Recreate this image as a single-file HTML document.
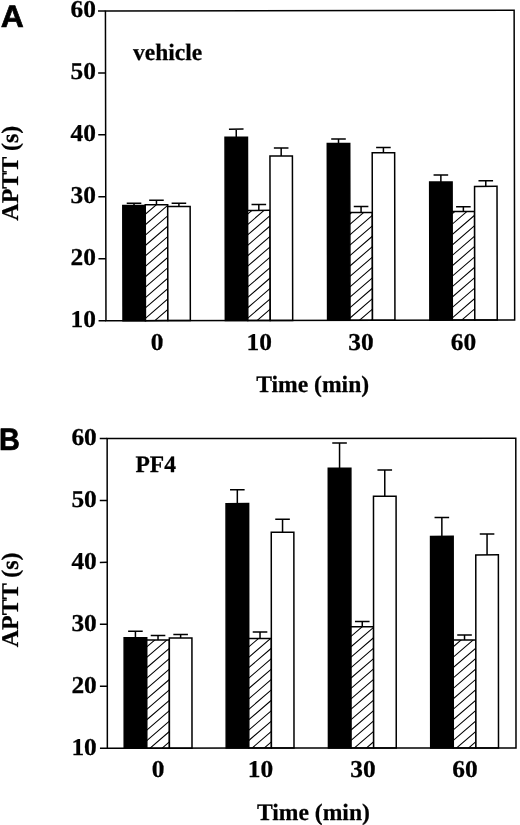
<!DOCTYPE html>
<html lang="en"><head><meta charset="utf-8"><title>APTT figure</title>
<style>html,body{margin:0;padding:0;background:#fff;}svg{display:block;filter:grayscale(1);}text{text-rendering:geometricPrecision;stroke:#000;stroke-width:0.25px;stroke-linejoin:round;}text.big{stroke-width:0.7px;}</style></head>
<body>
<svg width="520" height="825" viewBox="0 0 520 825">
<rect width="520" height="825" fill="#fff"/>
<g transform="rotate(-0.1 310 165)">
<rect x="122.73" y="205.27" width="22.45" height="115.08" fill="#000" stroke="#000" stroke-width="1.5"/>
<path d="M133.95,205.27 V202.90 M126.65,202.90 H141.25" stroke="#000" stroke-width="1.5" fill="none"/>
<rect x="145.18" y="204.40" width="22.45" height="115.95" fill="#fff" stroke="#000" stroke-width="1.5"/>
<clipPath id="cA0"><rect x="145.18" y="204.40" width="22.45" height="115.95"/></clipPath>
<path clip-path="url(#cA0)" d="M145.18,349.25 L167.62,329.94 M145.18,338.85 L167.62,319.54 M145.18,328.45 L167.62,309.14 M145.18,318.05 L167.62,298.74 M145.18,307.65 L167.62,288.34 M145.18,297.25 L167.62,277.94 M145.18,286.85 L167.62,267.54 M145.18,276.45 L167.62,257.14 M145.18,266.05 L167.62,246.74 M145.18,255.65 L167.62,236.34 M145.18,245.25 L167.62,225.94 M145.18,234.85 L167.62,215.54 M145.18,224.45 L167.62,205.14 M145.18,214.05 L167.62,194.74 M145.18,203.65 L167.62,184.34 M145.18,193.25 L167.62,173.94" stroke="#000" stroke-width="1.05" fill="none"/>
<path d="M156.40,204.40 V200.00 M149.10,200.00 H163.70" stroke="#000" stroke-width="1.5" fill="none"/>
<rect x="167.62" y="206.30" width="22.45" height="114.05" fill="#fff" stroke="#000" stroke-width="1.5"/>
<path d="M178.85,206.30 V203.10 M171.55,203.10 H186.15" stroke="#000" stroke-width="1.5" fill="none"/>
<rect x="225.07" y="137.07" width="22.45" height="183.28" fill="#000" stroke="#000" stroke-width="1.5"/>
<path d="M236.30,137.07 V129.00 M229.00,129.00 H243.60" stroke="#000" stroke-width="1.5" fill="none"/>
<rect x="247.52" y="210.30" width="22.45" height="110.05" fill="#fff" stroke="#000" stroke-width="1.5"/>
<clipPath id="cA1"><rect x="247.52" y="210.30" width="22.45" height="110.05"/></clipPath>
<path clip-path="url(#cA1)" d="M247.52,349.25 L269.97,329.94 M247.52,338.85 L269.97,319.54 M247.52,328.45 L269.97,309.14 M247.52,318.05 L269.97,298.74 M247.52,307.65 L269.97,288.34 M247.52,297.25 L269.97,277.94 M247.52,286.85 L269.97,267.54 M247.52,276.45 L269.97,257.14 M247.52,266.05 L269.97,246.74 M247.52,255.65 L269.97,236.34 M247.52,245.25 L269.97,225.94 M247.52,234.85 L269.97,215.54 M247.52,224.45 L269.97,205.14 M247.52,214.05 L269.97,194.74 M247.52,203.65 L269.97,184.34 M247.52,193.25 L269.97,173.94" stroke="#000" stroke-width="1.05" fill="none"/>
<path d="M258.75,210.30 V204.30 M251.45,204.30 H266.05" stroke="#000" stroke-width="1.5" fill="none"/>
<rect x="269.97" y="156.00" width="22.45" height="164.35" fill="#fff" stroke="#000" stroke-width="1.5"/>
<path d="M281.20,156.00 V148.00 M273.90,148.00 H288.50" stroke="#000" stroke-width="1.5" fill="none"/>
<rect x="327.32" y="143.47" width="22.45" height="176.88" fill="#000" stroke="#000" stroke-width="1.5"/>
<path d="M338.55,143.47 V139.00 M331.25,139.00 H345.85" stroke="#000" stroke-width="1.5" fill="none"/>
<rect x="349.77" y="212.60" width="22.45" height="107.75" fill="#fff" stroke="#000" stroke-width="1.5"/>
<clipPath id="cA2"><rect x="349.77" y="212.60" width="22.45" height="107.75"/></clipPath>
<path clip-path="url(#cA2)" d="M349.77,349.25 L372.22,329.94 M349.77,338.85 L372.22,319.54 M349.77,328.45 L372.22,309.14 M349.77,318.05 L372.22,298.74 M349.77,307.65 L372.22,288.34 M349.77,297.25 L372.22,277.94 M349.77,286.85 L372.22,267.54 M349.77,276.45 L372.22,257.14 M349.77,266.05 L372.22,246.74 M349.77,255.65 L372.22,236.34 M349.77,245.25 L372.22,225.94 M349.77,234.85 L372.22,215.54 M349.77,224.45 L372.22,205.14 M349.77,214.05 L372.22,194.74 M349.77,203.65 L372.22,184.34 M349.77,193.25 L372.22,173.94" stroke="#000" stroke-width="1.05" fill="none"/>
<path d="M361.00,212.60 V206.50 M353.70,206.50 H368.30" stroke="#000" stroke-width="1.5" fill="none"/>
<rect x="372.22" y="152.90" width="22.45" height="167.45" fill="#fff" stroke="#000" stroke-width="1.5"/>
<path d="M383.45,152.90 V147.70 M376.15,147.70 H390.75" stroke="#000" stroke-width="1.5" fill="none"/>
<rect x="429.62" y="182.17" width="22.45" height="138.18" fill="#000" stroke="#000" stroke-width="1.5"/>
<path d="M440.85,182.17 V175.20 M433.55,175.20 H448.15" stroke="#000" stroke-width="1.5" fill="none"/>
<rect x="452.07" y="211.70" width="22.45" height="108.65" fill="#fff" stroke="#000" stroke-width="1.5"/>
<clipPath id="cA3"><rect x="452.07" y="211.70" width="22.45" height="108.65"/></clipPath>
<path clip-path="url(#cA3)" d="M452.07,349.25 L474.52,329.94 M452.07,338.85 L474.52,319.54 M452.07,328.45 L474.52,309.14 M452.07,318.05 L474.52,298.74 M452.07,307.65 L474.52,288.34 M452.07,297.25 L474.52,277.94 M452.07,286.85 L474.52,267.54 M452.07,276.45 L474.52,257.14 M452.07,266.05 L474.52,246.74 M452.07,255.65 L474.52,236.34 M452.07,245.25 L474.52,225.94 M452.07,234.85 L474.52,215.54 M452.07,224.45 L474.52,205.14 M452.07,214.05 L474.52,194.74 M452.07,203.65 L474.52,184.34 M452.07,193.25 L474.52,173.94" stroke="#000" stroke-width="1.05" fill="none"/>
<path d="M463.30,211.70 V207.00 M456.00,207.00 H470.60" stroke="#000" stroke-width="1.5" fill="none"/>
<rect x="474.52" y="186.70" width="22.45" height="133.65" fill="#fff" stroke="#000" stroke-width="1.5"/>
<path d="M485.75,186.70 V181.00 M478.45,181.00 H493.05" stroke="#000" stroke-width="1.5" fill="none"/>
<rect x="105.7" y="10.6" width="408.70" height="309.75" fill="none" stroke="#000" stroke-width="1.5"/>
<line x1="98.30" y1="10.60" x2="105.7" y2="10.60" stroke="#000" stroke-width="1.5"/>
<line x1="98.30" y1="72.55" x2="105.7" y2="72.55" stroke="#000" stroke-width="1.5"/>
<line x1="98.30" y1="134.50" x2="105.7" y2="134.50" stroke="#000" stroke-width="1.5"/>
<line x1="98.30" y1="196.45" x2="105.7" y2="196.45" stroke="#000" stroke-width="1.5"/>
<line x1="98.30" y1="258.40" x2="105.7" y2="258.40" stroke="#000" stroke-width="1.5"/>
<line x1="98.30" y1="320.35" x2="105.7" y2="320.35" stroke="#000" stroke-width="1.5"/>
</g>
<text transform="translate(95.9,17.34) scale(1.05,1)" text-anchor="end" font-family='"Liberation Serif", serif' font-weight="bold" font-size="24.2">60</text>
<text transform="translate(95.9,79.29) scale(1.05,1)" text-anchor="end" font-family='"Liberation Serif", serif' font-weight="bold" font-size="24.2">50</text>
<text transform="translate(95.9,141.24) scale(1.05,1)" text-anchor="end" font-family='"Liberation Serif", serif' font-weight="bold" font-size="24.2">40</text>
<text transform="translate(95.9,203.19) scale(1.05,1)" text-anchor="end" font-family='"Liberation Serif", serif' font-weight="bold" font-size="24.2">30</text>
<text transform="translate(95.9,265.14) scale(1.05,1)" text-anchor="end" font-family='"Liberation Serif", serif' font-weight="bold" font-size="24.2">20</text>
<text transform="translate(95.9,327.09) scale(1.05,1)" text-anchor="end" font-family='"Liberation Serif", serif' font-weight="bold" font-size="24.2">10</text>
<text transform="translate(157.00,349.7) scale(1.05,1)" text-anchor="middle" font-family='"Liberation Serif", serif' font-weight="bold" font-size="24.2">0</text>
<text transform="translate(259.20,349.7) scale(1.05,1)" text-anchor="middle" font-family='"Liberation Serif", serif' font-weight="bold" font-size="24.2">10</text>
<text transform="translate(360.90,349.7) scale(1.05,1)" text-anchor="middle" font-family='"Liberation Serif", serif' font-weight="bold" font-size="24.2">30</text>
<text transform="translate(463.40,349.7) scale(1.05,1)" text-anchor="middle" font-family='"Liberation Serif", serif' font-weight="bold" font-size="24.2">60</text>
<text x="0" y="0" font-family='"Liberation Sans", sans-serif' font-weight="bold" font-size="31" class="big" transform="translate(0.7,26.9) scale(1.03,1)">A</text>
<text x="133.0" y="59.5" font-family='"Liberation Serif", serif' font-weight="bold" font-size="23.5">vehicle</text>
<text transform="translate(17.5,173.2) rotate(-90)" text-anchor="middle" font-family='"Liberation Serif", serif' font-weight="bold" font-size="24">APTT (s)</text>
<text x="312.7" y="392.3" text-anchor="middle" font-family='"Liberation Serif", serif' font-weight="bold" font-size="23.6">Time (min)</text>
<g transform="rotate(-0.04 311 593)">
<rect x="124.10" y="637.57" width="22.60" height="110.48" fill="#000" stroke="#000" stroke-width="1.5"/>
<path d="M135.40,637.57 V631.20 M128.10,631.20 H142.70" stroke="#000" stroke-width="1.5" fill="none"/>
<rect x="146.70" y="639.80" width="22.60" height="108.25" fill="#fff" stroke="#000" stroke-width="1.5"/>
<clipPath id="cB0"><rect x="146.70" y="639.80" width="22.60" height="108.25"/></clipPath>
<path clip-path="url(#cB0)" d="M146.70,771.65 L169.30,752.21 M146.70,761.25 L169.30,741.81 M146.70,750.85 L169.30,731.41 M146.70,740.45 L169.30,721.01 M146.70,730.05 L169.30,710.61 M146.70,719.65 L169.30,700.21 M146.70,709.25 L169.30,689.81 M146.70,698.85 L169.30,679.41 M146.70,688.45 L169.30,669.01 M146.70,678.05 L169.30,658.61 M146.70,667.65 L169.30,648.21 M146.70,657.25 L169.30,637.81 M146.70,646.85 L169.30,627.41 M146.70,636.45 L169.30,617.01 M146.70,626.05 L169.30,606.61" stroke="#000" stroke-width="1.05" fill="none"/>
<path d="M158.00,639.80 V635.40 M150.70,635.40 H165.30" stroke="#000" stroke-width="1.5" fill="none"/>
<rect x="169.30" y="637.90" width="22.60" height="110.15" fill="#fff" stroke="#000" stroke-width="1.5"/>
<path d="M180.60,637.90 V634.40 M173.30,634.40 H187.90" stroke="#000" stroke-width="1.5" fill="none"/>
<rect x="226.10" y="503.57" width="22.60" height="244.48" fill="#000" stroke="#000" stroke-width="1.5"/>
<path d="M237.40,503.57 V489.60 M230.10,489.60 H244.70" stroke="#000" stroke-width="1.5" fill="none"/>
<rect x="248.70" y="638.40" width="22.60" height="109.65" fill="#fff" stroke="#000" stroke-width="1.5"/>
<clipPath id="cB1"><rect x="248.70" y="638.40" width="22.60" height="109.65"/></clipPath>
<path clip-path="url(#cB1)" d="M248.70,771.65 L271.30,752.21 M248.70,761.25 L271.30,741.81 M248.70,750.85 L271.30,731.41 M248.70,740.45 L271.30,721.01 M248.70,730.05 L271.30,710.61 M248.70,719.65 L271.30,700.21 M248.70,709.25 L271.30,689.81 M248.70,698.85 L271.30,679.41 M248.70,688.45 L271.30,669.01 M248.70,678.05 L271.30,658.61 M248.70,667.65 L271.30,648.21 M248.70,657.25 L271.30,637.81 M248.70,646.85 L271.30,627.41 M248.70,636.45 L271.30,617.01 M248.70,626.05 L271.30,606.61" stroke="#000" stroke-width="1.05" fill="none"/>
<path d="M260.00,638.40 V632.00 M252.70,632.00 H267.30" stroke="#000" stroke-width="1.5" fill="none"/>
<rect x="271.30" y="532.30" width="22.60" height="215.75" fill="#fff" stroke="#000" stroke-width="1.5"/>
<path d="M282.60,532.30 V519.30 M275.30,519.30 H289.90" stroke="#000" stroke-width="1.5" fill="none"/>
<rect x="328.35" y="468.17" width="22.60" height="279.88" fill="#000" stroke="#000" stroke-width="1.5"/>
<path d="M339.65,468.17 V443.10 M332.35,443.10 H346.95" stroke="#000" stroke-width="1.5" fill="none"/>
<rect x="350.95" y="626.90" width="22.60" height="121.15" fill="#fff" stroke="#000" stroke-width="1.5"/>
<clipPath id="cB2"><rect x="350.95" y="626.90" width="22.60" height="121.15"/></clipPath>
<path clip-path="url(#cB2)" d="M350.95,771.65 L373.55,752.21 M350.95,761.25 L373.55,741.81 M350.95,750.85 L373.55,731.41 M350.95,740.45 L373.55,721.01 M350.95,730.05 L373.55,710.61 M350.95,719.65 L373.55,700.21 M350.95,709.25 L373.55,689.81 M350.95,698.85 L373.55,679.41 M350.95,688.45 L373.55,669.01 M350.95,678.05 L373.55,658.61 M350.95,667.65 L373.55,648.21 M350.95,657.25 L373.55,637.81 M350.95,646.85 L373.55,627.41 M350.95,636.45 L373.55,617.01 M350.95,626.05 L373.55,606.61 M350.95,615.65 L373.55,596.21" stroke="#000" stroke-width="1.05" fill="none"/>
<path d="M362.25,626.90 V621.50 M354.95,621.50 H369.55" stroke="#000" stroke-width="1.5" fill="none"/>
<rect x="373.55" y="496.30" width="22.60" height="251.75" fill="#fff" stroke="#000" stroke-width="1.5"/>
<path d="M384.85,496.30 V470.00 M377.55,470.00 H392.15" stroke="#000" stroke-width="1.5" fill="none"/>
<rect x="430.60" y="536.47" width="22.60" height="211.58" fill="#000" stroke="#000" stroke-width="1.5"/>
<path d="M441.90,536.47 V517.50 M434.60,517.50 H449.20" stroke="#000" stroke-width="1.5" fill="none"/>
<rect x="453.20" y="640.00" width="22.60" height="108.05" fill="#fff" stroke="#000" stroke-width="1.5"/>
<clipPath id="cB3"><rect x="453.20" y="640.00" width="22.60" height="108.05"/></clipPath>
<path clip-path="url(#cB3)" d="M453.20,771.65 L475.80,752.21 M453.20,761.25 L475.80,741.81 M453.20,750.85 L475.80,731.41 M453.20,740.45 L475.80,721.01 M453.20,730.05 L475.80,710.61 M453.20,719.65 L475.80,700.21 M453.20,709.25 L475.80,689.81 M453.20,698.85 L475.80,679.41 M453.20,688.45 L475.80,669.01 M453.20,678.05 L475.80,658.61 M453.20,667.65 L475.80,648.21 M453.20,657.25 L475.80,637.81 M453.20,646.85 L475.80,627.41 M453.20,636.45 L475.80,617.01 M453.20,626.05 L475.80,606.61" stroke="#000" stroke-width="1.05" fill="none"/>
<path d="M464.50,640.00 V635.20 M457.20,635.20 H471.80" stroke="#000" stroke-width="1.5" fill="none"/>
<rect x="475.80" y="555.00" width="22.60" height="193.05" fill="#fff" stroke="#000" stroke-width="1.5"/>
<path d="M487.10,555.00 V534.20 M479.80,534.20 H494.40" stroke="#000" stroke-width="1.5" fill="none"/>
<rect x="107.25" y="438.35" width="408.65" height="309.70" fill="none" stroke="#000" stroke-width="1.5"/>
<line x1="99.85" y1="438.35" x2="107.25" y2="438.35" stroke="#000" stroke-width="1.5"/>
<line x1="99.85" y1="500.29" x2="107.25" y2="500.29" stroke="#000" stroke-width="1.5"/>
<line x1="99.85" y1="562.23" x2="107.25" y2="562.23" stroke="#000" stroke-width="1.5"/>
<line x1="99.85" y1="624.17" x2="107.25" y2="624.17" stroke="#000" stroke-width="1.5"/>
<line x1="99.85" y1="686.11" x2="107.25" y2="686.11" stroke="#000" stroke-width="1.5"/>
<line x1="99.85" y1="748.05" x2="107.25" y2="748.05" stroke="#000" stroke-width="1.5"/>
</g>
<text transform="translate(96.8,445.30) scale(1.05,1)" text-anchor="end" font-family='"Liberation Serif", serif' font-weight="bold" font-size="24.2">60</text>
<text transform="translate(96.8,507.24) scale(1.05,1)" text-anchor="end" font-family='"Liberation Serif", serif' font-weight="bold" font-size="24.2">50</text>
<text transform="translate(96.8,569.18) scale(1.05,1)" text-anchor="end" font-family='"Liberation Serif", serif' font-weight="bold" font-size="24.2">40</text>
<text transform="translate(96.8,631.12) scale(1.05,1)" text-anchor="end" font-family='"Liberation Serif", serif' font-weight="bold" font-size="24.2">30</text>
<text transform="translate(96.8,693.06) scale(1.05,1)" text-anchor="end" font-family='"Liberation Serif", serif' font-weight="bold" font-size="24.2">20</text>
<text transform="translate(96.8,755.00) scale(1.05,1)" text-anchor="end" font-family='"Liberation Serif", serif' font-weight="bold" font-size="24.2">10</text>
<text transform="translate(158.00,777.2) scale(1.05,1)" text-anchor="middle" font-family='"Liberation Serif", serif' font-weight="bold" font-size="24.2">0</text>
<text transform="translate(260.50,777.2) scale(1.05,1)" text-anchor="middle" font-family='"Liberation Serif", serif' font-weight="bold" font-size="24.2">10</text>
<text transform="translate(363.00,777.2) scale(1.05,1)" text-anchor="middle" font-family='"Liberation Serif", serif' font-weight="bold" font-size="24.2">30</text>
<text transform="translate(464.90,777.2) scale(1.05,1)" text-anchor="middle" font-family='"Liberation Serif", serif' font-weight="bold" font-size="24.2">60</text>
<text x="0" y="0" font-family='"Liberation Sans", sans-serif' font-weight="bold" font-size="31" class="big" transform="translate(-1.0,449.9) scale(0.93,1)">B</text>
<text x="135.5" y="471.9" font-family='"Liberation Serif", serif' font-weight="bold" font-size="23.5">PF4</text>
<text transform="translate(18.4,599.9) rotate(-90)" text-anchor="middle" font-family='"Liberation Serif", serif' font-weight="bold" font-size="24">APTT (s)</text>
<text x="313.4" y="820.0" text-anchor="middle" font-family='"Liberation Serif", serif' font-weight="bold" font-size="23.6">Time (min)</text>
</svg>
</body></html>
